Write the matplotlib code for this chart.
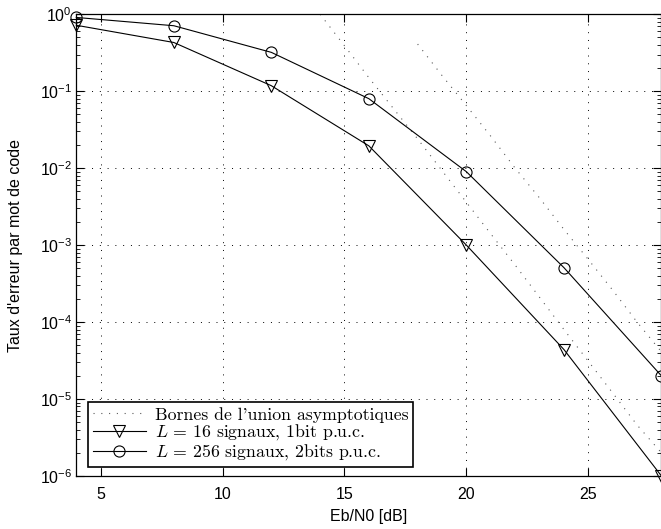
import numpy as np
import matplotlib
matplotlib.use("Agg")
import matplotlib.pyplot as plt
from matplotlib.ticker import FuncFormatter, LogLocator, NullLocator, NullFormatter, FixedLocator

# ---- data ----
snr_db = [4, 8, 12, 16, 20, 24, 28]
ber_L16 = [0.72, 0.43, 0.118, 0.0195, 0.001, 4.4e-5, 1.0e-6]
ber_L256 = [0.91, 0.71, 0.32, 0.08, 0.009, 5.1e-4, 2.0e-5]

bound1_x = [14, 15, 16, 17, 18, 19, 20, 21, 22, 23, 24, 25, 26, 27, 28]
bound1_y = [1.0, 0.39, 0.15, 0.06, 0.024, 0.0093, 0.0036, 0.0014, 5.5e-4,
            2.1e-4, 8.0e-5, 3.1e-5, 1.2e-5, 4.6e-6, 2.0e-6]
bound2_x = [18, 19, 20, 21, 22, 23, 24, 25, 26, 27, 28]
bound2_y = [0.41, 0.16, 0.065, 0.026, 0.010, 0.0041, 0.0016, 6.5e-4,
            2.6e-4, 1.0e-4, 4.1e-5]

xticks = [5, 10, 15, 20, 25]
yticks = [1e-6, 1e-5, 1e-4, 1e-3, 1e-2, 1e-1, 1e0]
xlabel = "Eb/N0 [dB]"
ylabel = "Taux d'erreur par mot de code"
leg_labels = ["Bornes de l'union asymptotiques",
              r"$L\,{=}\,16$ signaux, 1bit p.u.c.",
              r"$L\,{=}\,256$ signaux, 2bits p.u.c."]

plt.rcParams['mathtext.fontset'] = 'cm'
plt.rcParams['font.family'] = ['Liberation Sans', 'DejaVu Sans']

fig = plt.figure(figsize=(6.61, 5.29), dpi=100)
ax = fig.add_axes([0.1154, 0.1002, 0.8853, 0.8728])

dot = (0, (1, 6))
lb, = ax.plot(bound1_x, bound1_y, linestyle=dot, color='0.35', lw=0.8)
ax.plot(bound2_x, bound2_y, linestyle=dot, color='0.35', lw=0.8)
l16, = ax.plot(snr_db, ber_L16, color='k', lw=0.8, marker='v', ms=8,
               mfc='none', mec='k', mew=0.8, clip_on=False, zorder=3)
l256, = ax.plot(snr_db, ber_L256, color='k', lw=0.8, marker='o', ms=8,
                mfc='none', mec='k', mew=0.8, clip_on=False, zorder=3)

ax.set_yscale('log')
ax.set_xlim(4, 28)
ax.set_ylim(1e-6, 1)
ax.set_xticks(xticks)
ax.xaxis.set_minor_locator(NullLocator())
ax.yaxis.set_major_locator(FixedLocator(yticks))
minor_y = [m * t for t in yticks[:-1] for m in range(2, 10)]
ax.yaxis.set_minor_locator(FixedLocator(minor_y))
ax.yaxis.set_minor_formatter(NullFormatter())
ax.yaxis.set_major_formatter(FuncFormatter(
    lambda v, p: r'$\mathregular{10^{%d}}$' % int(round(np.log10(v)))))

ax.tick_params(which='major', direction='in', length=6, width=0.8,
               top=True, right=True, labelsize=11.5, colors='k')
ax.tick_params(axis='x', which='major', pad=8)
ax.tick_params(axis='y', which='major', pad=3)
ax.tick_params(which='minor', direction='in', length=3, width=0.6,
               top=True, right=True)
for s in ax.spines.values():
    s.set_linewidth(0.9)
    s.set_color('k')

ax.grid(True, which='major', linestyle=(0, (1, 7)), color='k', lw=0.7)

ax.set_xlabel(xlabel, fontsize=11.5, labelpad=5)
ax.set_ylabel(ylabel, fontsize=11.5, labelpad=12)

leg = ax.legend([lb, l16, l256], leg_labels, loc='lower left',
                bbox_to_anchor=(0.0205, 0.020), borderaxespad=0,
                prop=dict(family='cmr10', size=12.8), fancybox=False,
                framealpha=1, edgecolor='k', handlelength=3.0,
                handletextpad=0.5, labelspacing=0.0, borderpad=0.25)
leg.get_frame().set_linewidth(1.2)

fig.savefig('out.png', dpi=100)
